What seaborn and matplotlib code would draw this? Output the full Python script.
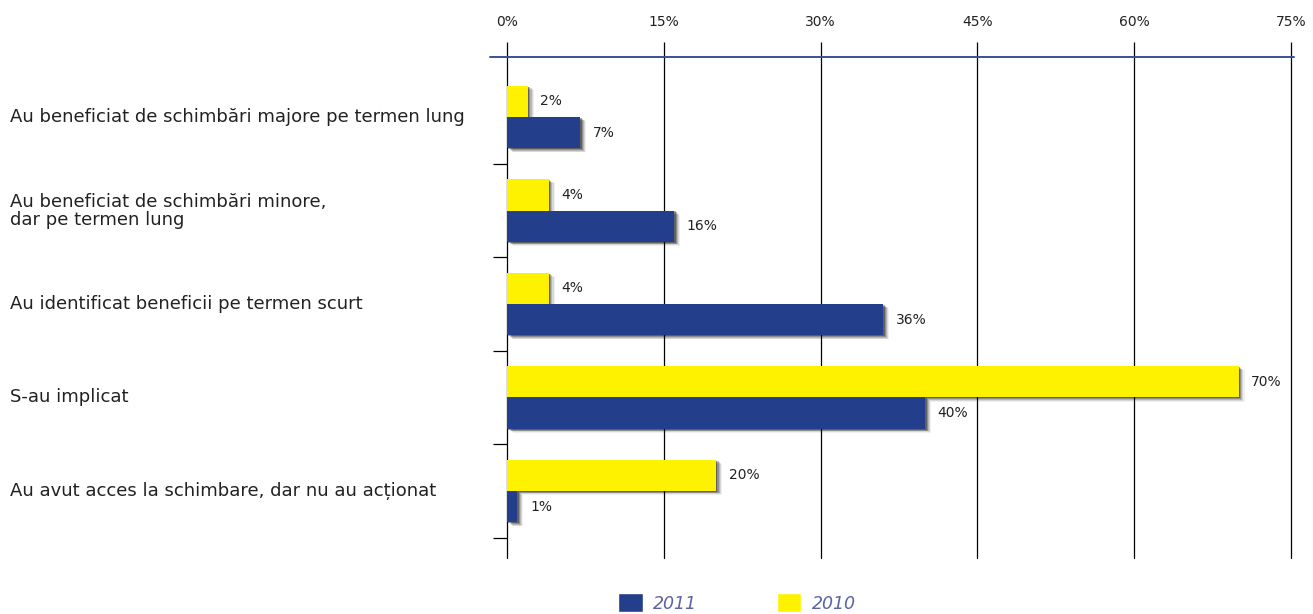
import matplotlib
matplotlib.use("Agg")
import matplotlib.pyplot as plt
import matplotlib.patheffects as pe
import matplotlib.transforms as mtransforms
from matplotlib.patches import Patch
from matplotlib.ticker import FixedLocator, FuncFormatter
import pandas as pd
import seaborn as sns

# Categorii (de sus în jos) și procentele pe ani
categorii = [
    "Au beneficiat de schimbări majore pe termen lung",
    "Au beneficiat de schimbări minore,\ndar pe termen lung",
    "Au identificat beneficii pe termen scurt",
    "S-au implicat",
    "Au avut acces la schimbare, dar nu au acționat",
]
valori_2010 = [2, 4, 4, 70, 20]
valori_2011 = [7, 16, 36, 40, 1]
ani = ["2010", "2011"]
x_ticks = [0, 15, 30, 45, 60, 75]

ALBASTRU = "#233f8c"
GALBEN = "#fff200"
TEXT_LEGENDA = "#5b62a8"

df = pd.DataFrame({
    "categorie": categorii * 2,
    "valoare": valori_2010 + valori_2011,
    "an": [ani[0]] * len(categorii) + [ani[1]] * len(categorii),
})

sns.set_theme(style="white")
plt.rcParams["font.family"] = ["DejaVu Sans"]

W, H = 1313, 614
fig = plt.figure(figsize=(W / 100, H / 100), dpi=100)
ax = fig.add_axes([507 / W, 1 - 558 / H, (1291 - 507) / W, (558 - 57) / H])

sns.barplot(
    data=df, y="categorie", x="valoare", hue="an", hue_order=ani,
    order=categorii, palette={"2010": GALBEN, "2011": ALBASTRU},
    orient="h", width=0.67, saturation=1, legend=False, ax=ax,
)

# umbră difuză în dreapta-jos a barelor
umbra = [
    pe.SimplePatchShadow(offset=(o, -o * 0.7), shadow_rgbFace="black", alpha=a)
    for o, a in [(4.2, 0.06), (3.4, 0.10), (2.6, 0.15), (1.8, 0.22), (1.0, 0.32)]
] + [pe.Normal()]
for p in ax.patches:
    p.set_path_effects(umbra)
    p.set_linewidth(0)

for cont in ax.containers:
    ax.bar_label(cont, fmt="%d%%", padding=9, fontsize=10, color="#222222")

ax.set_xlim(0, 75)
ax.set_ylim(4.717, -0.642)
ax.set_xlabel("")
ax.set_ylabel("")

# axa procentelor sus, cu linii verticale
ax.xaxis.set_major_locator(FixedLocator(x_ticks))
ax.xaxis.set_major_formatter(FuncFormatter(lambda v, _: f"{v:.0f}%"))
ax.xaxis.tick_top()
ax.tick_params(axis="x", top=True, bottom=False, direction="out", length=11,
               width=0.9, color="black", pad=9, labelsize=10, labelcolor="#222222")
ax.grid(axis="x", color="black", linewidth=0.9)
ax.grid(axis="y", visible=False)
for gl in ax.get_xgridlines():
    gl.set_clip_on(False)
for s in ax.spines.values():
    s.set_visible(False)

# linia albastră de sus
ax.plot([-0.022, 1.004], [1, 1], transform=ax.transAxes, color="#3a4f9a",
        linewidth=1.4, clip_on=False, zorder=5)

# separatoare între categorii pe axa verticală
ax.set_yticks([])
ax.yaxis.set_minor_locator(FixedLocator([0.5, 1.5, 2.5, 3.5, 4.5]))
ax.tick_params(axis="y", which="minor", left=True, length=10, width=0.9,
               color="black", direction="out")

# etichetele categoriilor, aliniate la stânga
tr = mtransforms.blended_transform_factory(fig.transFigure, ax.transData)
for i, c in enumerate(categorii):
    ax.text(10 / W, i, c, transform=tr, ha="left", va="center",
            fontsize=13, color="#222222", linespacing=1.0)

# legenda
handles = [Patch(facecolor=ALBASTRU, label="2011"), Patch(facecolor=GALBEN, label="2010")]
leg = fig.legend(handles=handles, loc="center", bbox_to_anchor=(737 / W, 1 - 603 / H),
                 ncol=2, frameon=False, handlelength=1.4, handleheight=1.3,
                 handletextpad=0.6, columnspacing=4.6,
                 prop={"style": "italic", "size": 12.5})
for t in leg.get_texts():
    t.set_color(TEXT_LEGENDA)

fig.savefig("out.png", dpi=100)
